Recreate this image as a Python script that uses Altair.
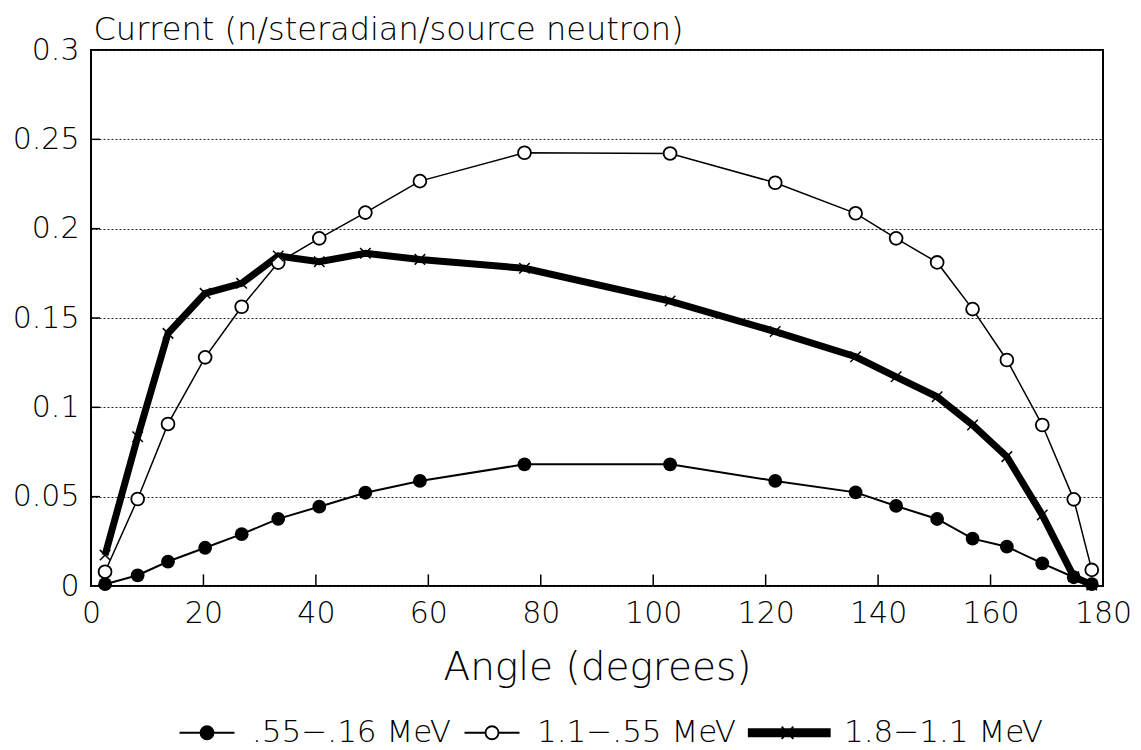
import altair as alt
import pandas as pd

# ---- data ----
angles = [2.5, 8.3, 13.7, 20.3, 26.8, 33.3, 40.6, 48.8, 58.5, 77.1,
          103.0, 121.7, 136.0, 143.2, 150.5, 156.8, 162.9, 169.2, 174.8, 178.0]
low_band = [0.001, 0.006, 0.0137, 0.0214, 0.029, 0.0376, 0.0444, 0.0522, 0.0588, 0.0681,
            0.0681, 0.0588, 0.0524, 0.0448, 0.0375, 0.0265, 0.022, 0.0127, 0.0049, 0.001]
mid_band = [0.008, 0.0487, 0.0907, 0.128, 0.1563, 0.181, 0.1946, 0.209, 0.2266, 0.2425,
            0.2421, 0.2257, 0.2086, 0.1946, 0.1811, 0.155, 0.1265, 0.0901, 0.0485, 0.009]
high_band = [0.0173, 0.0835, 0.1414, 0.1638, 0.1694, 0.1847, 0.1815, 0.1862, 0.1828, 0.1778,
             0.1595, 0.1424, 0.1283, 0.1171, 0.1059, 0.0901, 0.0724, 0.0397, 0.0052, 0.0006]
series_names = [".55\u2212.16 MeV", "1.1\u2212.55 MeV", "1.8\u22121.1 MeV"]
x_tick_values = [0, 20, 40, 60, 80, 100, 120, 140, 160, 180]
y_tick_values = [0, 0.05, 0.1, 0.15, 0.2, 0.25, 0.3]

rows = []
for name, vals in zip(series_names, [low_band, mid_band, high_band]):
    for a, v in zip(angles, vals):
        rows.append({"angle": a, "value": v, "series": name})
df = pd.DataFrame(rows)

FONT = "DejaVu Sans"
WEIGHT = 200

xenc = alt.X("angle:Q",
             scale=alt.Scale(domain=[0, 180], nice=False, zero=False),
             axis=alt.Axis(values=x_tick_values, title="Angle (degrees)", grid=False,
                           ticks=False, domain=False, labelFontSize=30, labelFont=FONT,
                           labelFontWeight=WEIGHT,
                           labelColor="black", labelPadding=12, labelFlush=False,
                           titleFontSize=39, titleFont=FONT, titleFontWeight=WEIGHT,
                           titleColor="black", titlePadding=20))
yenc = alt.Y("value:Q",
             scale=alt.Scale(domain=[0, 0.3], nice=False, zero=False),
             axis=alt.Axis(values=y_tick_values, title="Current (n/steradian/source neutron)",
                           grid=True, gridDash=[2, 2], gridColor="#222", gridWidth=1.2,
                           ticks=False, domain=False, labelFontSize=30, labelFont=FONT,
                           labelFontWeight=WEIGHT,
                           labelColor="black", labelPadding=12, labelFlush=False,
                           labelExpr="format(datum.value, '.2~f')",
                           titleAngle=0, titleAlign="left", titleBaseline="alphabetic",
                           titleX=2, titleY=-11, titleFontSize=32, titleFont=FONT,
                           titleFontWeight=WEIGHT, titleColor="black"))

base = alt.Chart(df)

def series(name):
    return base.transform_filter(alt.datum.series == name)

line_mid = series(series_names[1]).mark_line(color="black", strokeWidth=1.5).encode(x=xenc, y=yenc)
line_low = series(series_names[0]).mark_line(color="black", strokeWidth=2).encode(x=xenc, y=yenc)
line_high = series(series_names[2]).mark_line(color="black", strokeWidth=7).encode(x=xenc, y=yenc)

pts_low = series(series_names[0]).mark_point(shape="circle", filled=True, color="black",
                                             size=190, opacity=1).encode(x=xenc, y=yenc)
pts_mid = series(series_names[1]).mark_point(shape="circle", filled=True, fill="white",
                                             stroke="black", strokeWidth=1.8, size=165,
                                             opacity=1).encode(x=xenc, y=yenc)
pts_high = series(series_names[2]).mark_point(shape="M-1,-1L1,1M-1,1L1,-1", filled=False,
                                              color="black", strokeWidth=1.5, size=110,
                                              opacity=1).encode(x=xenc, y=yenc)

# inward tick marks
xt = pd.DataFrame({"angle": x_tick_values[1:-1]})
xt["value"] = 0.0
xt["value2"] = 0.0065
x_ticks_layer = alt.Chart(xt).mark_rule(color="black", strokeWidth=1.5).encode(
    x=xenc, y=yenc, y2="value2:Q")
yt = pd.DataFrame({"value": y_tick_values[1:-1]})
yt["angle"] = 0.0
yt["angle2"] = 1.6
y_ticks_layer = alt.Chart(yt).mark_rule(color="black", strokeWidth=1.5).encode(
    x=xenc, x2="angle2:Q", y=yenc)

# legend (drawn from scales, no visible marks)
legend_paths = [
    "M-4.46,0H-1.23M0.77,0H4M0.77,0A1,1,0,1,1,-1.23,0A1,1,0,1,1,0.77,0Z",
    "M-4.46,0H-1.23M0.77,0H4M0.77,0A1,1,0,1,1,-1.23,0A1,1,0,1,1,0.77,0Z",
    "M-7.96,-0.55H4.5V0.55H-7.96ZM-2.9,-0.95L-1.1,0.95M-2.9,0.95L-1.1,-0.95",
]
leg_df = pd.DataFrame({"series": series_names})
legend_layer = alt.Chart(leg_df).transform_filter("false").mark_point(
    filled=True, opacity=1).encode(
    shape=alt.Shape("series:N", title=None,
                    scale=alt.Scale(domain=series_names, range=legend_paths)),
    fill=alt.Fill("series:N", title=None,
                  scale=alt.Scale(domain=series_names, range=["black", "white", "black"])),
    stroke=alt.Stroke("series:N", title=None,
                      scale=alt.Scale(domain=series_names, range=["black", "black", "black"])),
)

chart = alt.layer(
    line_mid, line_low, line_high, pts_low, pts_mid, pts_high,
    x_ticks_layer, y_ticks_layer, legend_layer
).properties(
    width=1012, height=536,
    padding={"left": 91, "top": 50, "right": 38, "bottom": 164},
    autosize=alt.AutoSizeParams(type="none"),
).configure_view(
    stroke="black", strokeWidth=2
).configure_legend(
    orient="none", legendX=102, legendY=667, direction="horizontal",
    symbolSize=169, symbolStrokeColor="black", symbolStrokeWidth=1.8,
    labelFont=FONT, labelFontSize=31, labelFontWeight=WEIGHT, labelColor="black",
    labelOffset=28, columnPadding=8, labelLimit=400,
)

chart.save("out.html", embed_options={"renderer": "svg", "actions": False})
